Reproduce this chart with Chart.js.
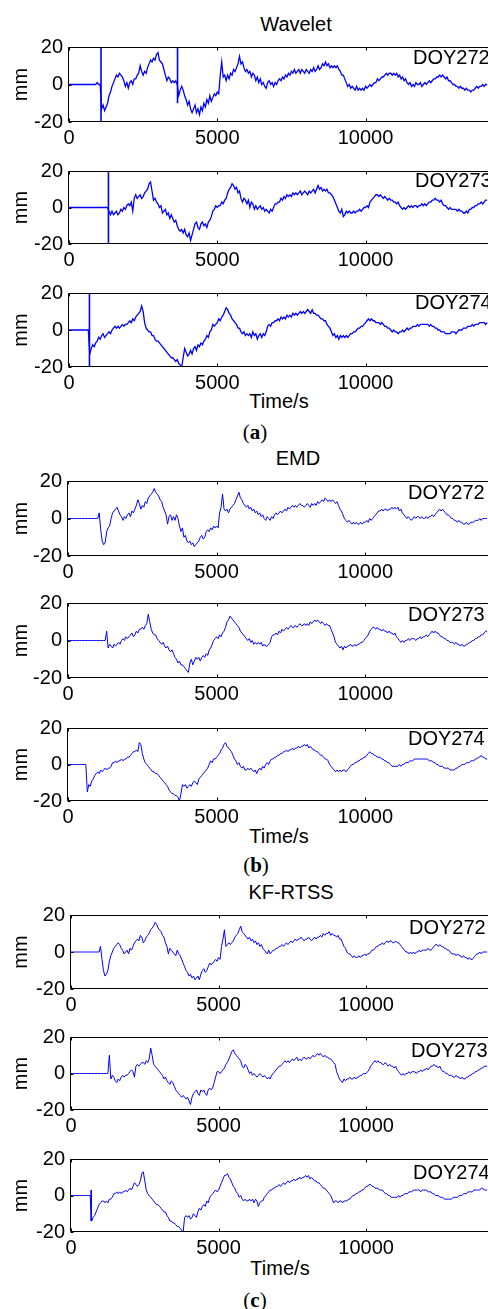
<!DOCTYPE html>
<html>
<head>
<meta charset="utf-8">
<script src="https://cdn.jsdelivr.net/npm/chart.js@4.4.1/dist/chart.umd.min.js"></script>
<style>
  body { margin: 0; background: #fff; width: 488px; height: 1309px; position: relative; overflow: hidden;
         font-family: "Liberation Sans", Arial, sans-serif; }
  canvas { position: absolute; left: 0; }
  .t { position: absolute; font-size: 20px; line-height: 20px; white-space: nowrap; color: #000; }
  .c { transform: translateX(-50%); }
  .cap { font-family: "Liberation Serif", "DejaVu Serif", serif; font-size: 21px; }
</style>
</head>
<body>
<div class="t c" style="left:296px;top:14px">Wavelet</div>
<div class="t c" style="left:279px;top:391px">Time/s</div>
<div class="t c cap" style="left:255px;top:422px">(<b>a</b>)</div>
<div class="t c" style="left:298px;top:448px">EMD</div>
<div class="t c" style="left:279px;top:826px">Time/s</div>
<div class="t c cap" style="left:256px;top:855px">(<b>b</b>)</div>
<div class="t c" style="left:291px;top:882px">KF-RTSS</div>
<div class="t c" style="left:280px;top:1258px">Time/s</div>
<div class="t c cap" style="left:255px;top:1290px">(<b>c</b>)</div>

<script>
// ---- data: displacement (mm) sampled every 50 s, one row = 1000 s ----
const STEP = 50;
const times = Array.from({ length: 283 }, (_, i) => i * STEP);
const xTicks = [0, 5000, 10000];
const yTicks = [-20, 0, 20];
const xMax = 14130;

// Wavelet
const wav272 = [
  0,0,0,0,0,0,0,0,0,0,0,0,0,0,0,0,0,0,0,1,
  0,0,-13,-11,-14,-12,-10,-6,-4,-1,1,3,5,4,6,5,4,2,-1,1,
  -2,1,2,0,3,3,5,6,10,7,5,7,6,9,11,13,12,14,13,16,
  17,13,12,11,8,5,2,4,3,1,2,1,2,0,-6,-3,-1,-3,-6,-8,
  -11,-9,-13,-15,-13,-11,-15,-13,-16,-12,-14,-10,-12,-8,-10,-6,-9,-7,-5,-6,
  -4,-5,5,12,4,5,2,5,3,6,5,8,7,9,11,15,11,12,9,7,
  8,6,7,4,6,5,2,4,1,3,0,1,-1,-2,1,2,0,1,-1,1,
  0,2,3,2,4,3,5,4,6,5,7,6,8,6,7,8,6,8,7,6,
  8,7,6,8,7,9,7,8,10,8,9,11,10,12,10,11,9,10,9,10,
  9,10,8,7,5,5,3,1,-1,0,-2,-1,-2,-3,-1,-3,-2,-3,-2,-3,
  -1,-2,-1,0,-1,0,1,1,3,2,3,4,4,5,6,5,6,6,5,6,
  5,6,4,5,3,4,2,3,1,0,1,-1,0,-1,1,0,0,1,-1,0,
  1,0,1,2,1,2,3,3,4,4,5,4,5,4,3,4,2,2,1,0,
  0,-1,-1,-2,-1,-2,-2,-3,-2,-3,-3,-4,-3,-3,-2,-1,-2,-1,-1,0,
  -1,0,0];
const wav273 = [
  0,0,0,0,0,0,0,0,0,0,0,0,0,0,0,0,0,0,0,0,
  0,0,0,0,0,0,0,-2,-4,-2,-4,-3,-2,-4,-3,-1,-2,0,-1,1,
  2,1,3,-2,5,7,5,6,7,5,6,8,9,10,13,14,9,4,5,3,
  2,0,1,-3,-2,-1,-4,-3,-6,-4,-6,-8,-7,-10,-12,-13,-12,-14,-12,-15,
  -16,-14,-18,-15,-12,-9,-8,-11,-12,-9,-8,-10,-9,-11,-8,-7,-5,-2,-1,1,
  0,1,1,3,2,4,5,8,10,11,13,12,10,11,8,9,5,3,5,4,
  2,4,0,3,2,-1,1,-1,0,1,-1,0,-2,-1,-2,-3,-1,-2,0,2,
  2,3,3,5,4,6,5,7,6,7,6,8,7,8,7,8,9,7,8,9,
  8,7,9,8,9,10,8,10,12,10,11,9,10,9,10,8,8,7,6,4,
  2,0,-2,-3,-1,-5,-4,-2,-3,-2,-3,-3,-2,-3,-2,-2,-1,-2,-1,0,
  0,1,0,3,4,5,6,7,7,6,7,6,5,6,5,4,5,4,4,3,
  3,2,3,1,0,-1,0,-1,0,1,0,1,0,1,1,0,1,1,2,1,
  2,1,2,3,3,4,4,5,4,4,3,4,2,1,1,0,-1,0,-1,-1,
  -1,-1,-2,-1,-2,-2,-3,-3,-2,-3,-1,-1,0,0,1,1,2,2,3,2,
  3,4,4];
const wav274 = [
  0,0,0,0,0,0,0,0,0,0,0,0,0,0,-13,-10,-8,-9,-7,-6,
  -4,-5,-3,-2,-4,-3,-2,-1,-2,0,1,2,1,2,1,2,3,2,3,3,
  4,5,4,6,5,7,8,9,10,13,10,4,1,0,-1,-1,-3,-3,-5,-6,
  -6,-7,-8,-9,-10,-11,-12,-13,-14,-15,-15,-16,-17,-16,-18,-19,-20,-15,-10,-12,
  -14,-13,-11,-13,-10,-9,-11,-8,-9,-7,-8,-6,-5,-3,-4,-1,0,3,2,3,
  4,6,5,7,8,10,12,11,9,8,6,5,4,3,1,1,-1,-2,-1,-3,
  -2,-3,-2,-4,-1,-3,-2,-5,-3,-2,-4,-2,-3,-1,2,3,2,4,4,5,
  5,6,5,7,6,7,6,8,7,8,7,9,8,9,8,9,10,9,10,9,
  10,11,10,9,11,9,9,8,8,7,6,6,5,5,3,2,1,-1,-3,-2,
  -4,-3,-5,-3,-4,-3,-4,-3,-4,-3,-2,-2,-1,-1,0,1,1,2,2,3,
  4,5,6,5,6,5,5,4,4,4,3,4,3,2,2,1,1,0,-1,0,
  -1,-1,-2,-1,-1,0,-1,0,1,0,1,1,2,2,2,3,2,3,3,3,
  3,3,3,2,3,2,2,1,1,0,0,-1,-1,-1,-2,-2,-2,-2,-1,-1,
  -1,-2,-1,0,0,0,1,1,1,2,2,2,3,2,3,3,3,4,4,4,
  4,3,4];
// vertical outliers of the wavelet result: [time, from, to]
const wavSpikes272 = [[1080, 20, -20], [3660, 20, -10]];
const wavSpikes273 = [[1330, 20, -20]];
const wavSpikes274 = [[690, 20, -20]];

// EMD
const emd272 = [
  0,0,0,0,0,0,0,0,0,0,0,0,0,0,0,0,0,0,0,0,
  0,3,-6,-12,-14,-13,-7,-5,-4,0,3,4,5,6,4,2,1,-1,1,0,
  2,3,1,4,3,5,7,10,8,5,7,6,9,8,11,12,13,14,16,14,
  13,12,10,9,6,4,2,-3,1,2,-1,1,-1,2,0,-4,-7,-5,-10,-9,
  -12,-13,-12,-14,-13,-15,-14,-13,-12,-10,-9,-11,-10,-7,-6,-7,-5,-6,-4,-5,
  -4,-5,3,6,13,5,4,5,3,5,6,7,8,10,12,14,11,10,8,7,
  6,7,5,6,4,5,3,4,2,3,1,2,0,-1,1,0,-1,1,0,2,
  3,2,3,4,3,4,5,4,6,5,6,7,6,7,6,7,8,7,7,6,
  7,8,7,6,8,7,8,7,9,8,9,10,9,11,10,9,10,9,10,9,
  8,9,7,5,4,2,0,-1,-2,-1,-2,-3,-2,-3,-2,-3,-3,-2,-3,-2,
  -2,-1,-2,0,-1,0,1,2,3,4,4,5,4,5,5,4,5,5,6,5,
  6,5,6,4,5,3,2,1,0,1,0,-1,0,1,0,1,1,0,1,0,
  0,1,0,1,1,2,1,2,3,4,5,4,5,4,3,2,2,1,0,0,
  -1,-1,-2,-1,-2,-2,-3,-3,-2,-3,-3,-2,-2,-2,-1,-1,-1,0,-1,0,
  0,0,0];
const emd273 = [
  0,0,0,0,0,0,0,0,0,0,0,0,0,0,0,0,0,0,0,0,
  0,0,0,0,0,0,5,-4,-2,-3,-4,-2,-3,-2,-1,-2,0,1,0,2,
  1,2,3,4,2,3,5,4,6,6,7,6,8,9,14,10,6,4,3,3,
  1,0,-1,-2,-1,-3,-4,-3,-5,-6,-5,-7,-9,-10,-12,-11,-13,-13,-14,-15,
  -16,-17,-12,-10,-13,-11,-9,-10,-9,-11,-9,-8,-9,-7,-8,-5,-4,-2,0,1,
  2,1,3,2,4,5,7,10,11,13,12,11,10,9,8,7,5,4,3,2,
  1,0,1,-1,0,-2,-1,-2,-1,-2,-1,-3,-2,-3,-3,-2,-1,2,3,3,
  4,3,5,4,6,5,6,7,6,7,8,7,7,8,7,8,9,8,8,9,
  8,9,8,10,9,10,11,10,11,10,9,10,9,8,9,8,8,6,4,2,
  -1,-2,-3,-4,-3,-5,-3,-4,-3,-3,-2,-3,-3,-2,-3,-2,-2,-1,-1,0,
  1,2,3,5,6,7,7,6,7,6,6,5,6,5,5,4,5,4,4,3,
  4,2,1,0,-1,0,-1,0,0,1,0,1,1,1,0,1,1,2,1,2,
  2,3,2,3,4,5,4,5,4,4,3,2,2,1,1,0,0,-1,-1,-1,
  -2,-1,-2,-2,-3,-2,-3,-3,-2,-2,-1,-1,0,0,1,1,2,2,3,3,
  4,5,5];
const emd274 = [
  0,0,0,0,0,0,0,0,0,0,0,0,0,-15,-11,-12,-9,-8,-6,-5,
  -4,-5,-3,-4,-3,-2,-3,-2,-2,-1,1,1,2,1,2,2,3,2,3,3,
  4,4,5,6,7,7,8,7,12,11,6,3,1,0,-1,-2,-3,-4,-4,-5,
  -5,-6,-7,-8,-9,-10,-11,-12,-14,-15,-16,-16,-17,-17,-18,-20,-16,-11,-12,-11,
  -13,-12,-11,-12,-10,-9,-10,-11,-8,-7,-6,-5,-4,-3,-2,0,2,1,3,3,
  4,5,6,8,9,11,12,10,9,8,7,5,3,2,0,1,-1,-2,-1,-3,
  -3,-2,-3,-2,-3,-4,-3,-5,-3,-2,-3,-1,-2,0,1,0,2,3,3,4,
  4,5,5,6,6,7,7,8,7,8,8,9,8,9,9,10,9,10,10,11,
  10,11,9,10,9,8,8,7,7,6,5,5,4,3,3,2,0,-1,-2,-3,
  -4,-3,-4,-3,-4,-3,-3,-4,-3,-2,-1,0,0,1,1,2,2,3,3,4,
  4,5,6,7,6,6,5,5,4,4,4,3,3,2,2,1,1,0,-1,-1,
  -1,-1,-1,0,-1,0,0,1,1,1,2,2,2,3,3,3,3,3,3,3,
  3,3,3,2,2,2,1,1,0,0,-1,-1,-1,-2,-2,-2,-2,-3,-3,-3,
  -3,-2,-2,-1,-1,0,0,0,1,1,1,2,2,2,3,3,4,4,5,4,
  4,3,3];

// KF-RTSS
const kf272 = [
  0,0,0,0,0,0,0,0,0,0,0,0,0,0,0,0,0,0,0,0,
  3,-4,-10,-13,-12,-10,-5,-2,0,2,3,4,5,4,2,1,-1,0,1,-1,
  2,1,3,5,6,7,6,9,8,5,6,8,9,10,12,13,14,16,15,13,
  12,11,9,8,5,3,-1,2,1,0,-1,-2,1,-1,-2,-4,-6,-8,-10,-11,
  -13,-12,-14,-13,-15,-14,-13,-15,-12,-10,-9,-11,-10,-8,-6,-7,-6,-5,-4,-5,
  -3,-4,3,7,12,3,4,5,4,5,6,8,9,10,12,14,11,10,9,8,
  7,8,6,7,5,6,4,5,3,4,2,1,0,-1,1,-1,0,1,1,2,
  2,3,3,4,3,4,5,4,5,6,5,6,7,6,7,7,8,7,6,7,
  7,8,7,6,7,8,7,8,8,9,8,10,9,10,10,11,9,10,9,9,
  8,9,7,7,5,3,2,0,-1,-1,-2,-3,-2,-3,-3,-2,-3,-2,-2,-1,
  -2,-1,-1,0,1,1,2,3,3,4,4,5,4,5,6,5,6,6,5,5,
  6,5,5,4,3,2,1,0,0,-1,0,-1,0,-1,0,0,1,0,1,1,
  1,1,2,1,1,2,3,4,4,3,4,3,3,2,2,1,1,0,-1,-1,
  -1,-2,-1,-2,-2,-3,-2,-3,-3,-4,-3,-4,-4,-3,-2,-1,-1,0,-1,0,
  0,0,0];
const kf273 = [
  0,0,0,0,0,0,0,0,0,0,0,0,0,0,0,0,0,0,0,0,
  0,0,0,0,0,0,10,-3,-1,-2,-4,-5,-3,-4,-2,-1,-2,-1,-1,0,
  1,2,1,-2,4,5,4,5,6,6,5,7,6,8,14,10,5,4,3,2,
  1,0,-1,-3,-2,-4,-5,-6,-4,-5,-7,-9,-10,-11,-12,-13,-12,-13,-14,-13,
  -15,-17,-13,-11,-10,-9,-11,-12,-9,-10,-9,-11,-12,-9,-8,-9,-8,-5,-2,1,
  1,0,1,2,3,5,6,8,10,12,13,11,10,9,8,7,4,3,5,4,
  2,0,1,-1,0,-1,-2,-1,0,-1,-2,-1,-2,-3,-2,-3,-1,0,1,2,
  3,4,4,5,6,7,6,7,6,7,8,7,8,9,7,8,7,8,9,8,
  8,9,8,9,10,9,10,11,10,11,10,9,10,9,9,8,8,7,6,5,
  1,-1,-3,-4,-5,-3,-4,-3,-3,-2,-3,-3,-2,-3,-2,-2,-1,-1,0,0,
  0,1,2,4,5,6,7,6,7,6,6,5,5,6,5,4,5,4,4,3,
  4,2,1,0,-1,0,-1,0,0,1,0,1,1,1,0,1,1,2,1,2,
  2,3,2,3,4,4,5,4,4,3,4,2,1,1,0,0,-1,-1,-1,-2,
  -2,-1,-2,-2,-3,-2,-3,-3,-2,-2,-1,-1,0,0,1,1,2,2,3,3,
  4,4,4];
const kf274 = [
  0,0,0,0,0,0,0,0,0,0,0,0,0,0,-14,-12,-11,-9,-7,-5,
  -4,-3,-3,-4,-3,-4,-2,-2,-1,1,1,2,1,2,1,2,2,3,2,3,
  4,3,5,7,6,5,6,8,12,13,8,3,1,0,-1,-2,-3,-4,-5,-5,
  -6,-7,-8,-9,-9,-11,-12,-14,-14,-15,-15,-16,-17,-17,-18,-19,-20,-12,-11,-12,
  -11,-13,-12,-10,-11,-12,-9,-7,-8,-6,-5,-6,-3,-4,-1,0,1,2,3,2,
  3,5,7,9,11,11,12,10,9,7,5,4,2,1,-1,0,-2,-3,-2,-3,
  -3,-2,-3,-2,-4,-2,-3,-6,-4,-3,-3,-1,0,1,2,3,3,4,4,5,
  5,6,5,6,7,6,7,8,7,8,8,9,8,9,9,10,9,10,10,11,
  10,11,9,10,9,8,8,7,7,6,5,4,4,3,2,1,0,-2,-4,-3,
  -3,-4,-3,-3,-4,-3,-3,-3,-2,-2,-1,0,0,1,1,2,2,3,3,4,
  5,5,6,6,5,5,4,4,4,3,3,3,2,1,1,0,0,-1,-1,-1,
  -1,-1,0,-1,0,0,1,1,1,2,2,2,3,3,3,3,3,2,3,3,
  3,3,2,2,2,1,1,0,0,0,-1,-1,-1,-2,-2,-2,-2,-2,-2,-1,
  -1,-1,-1,0,0,0,1,1,1,2,2,2,2,3,3,3,3,3,4,4,
  3,3,3];
const kfSpikes274 = [[685, 3, -14]];

// ---- layout of the nine panels (pixel boxes) ----
const panels = [
  { top: 43,   h: 79, left: 69, v: wav272, spikes: wavSpikes272, doy: 'DOY272', dx: 413, dy: 57,   lw: 1.3 },
  { top: 167,  h: 77, left: 69, v: wav273, spikes: wavSpikes273, doy: 'DOY273', dx: 415, dy: 180,  lw: 1.3 },
  { top: 289,  h: 78, left: 69, v: wav274, spikes: wavSpikes274, doy: 'DOY274', dx: 415, dy: 302,  lw: 1.3 },
  { top: 477,  h: 79, left: 68, v: emd272, spikes: [],           doy: 'DOY272', dx: 408, dy: 492,  lw: 1 },
  { top: 599,  h: 79, left: 68, v: emd273, spikes: [],           doy: 'DOY273', dx: 408, dy: 614,  lw: 1 },
  { top: 724,  h: 77, left: 68, v: emd274, spikes: [],           doy: 'DOY274', dx: 408, dy: 738,  lw: 1 },
  { top: 911,  h: 78, left: 71, v: kf272,  spikes: [],           doy: 'DOY272', dx: 409, dy: 927,  lw: 1 },
  { top: 1033, h: 77, left: 71, v: kf273,  spikes: [],           doy: 'DOY273', dx: 411, dy: 1050, lw: 1 },
  { top: 1155, h: 77, left: 71, v: kf274,  spikes: kfSpikes274,  doy: 'DOY274', dx: 413, dy: 1172, lw: 1 }
];

const PAD_TOP = 14, X_AXIS_H = 30;
const FONT = { family: '"Liberation Sans", Arial, sans-serif', size: 20 };

// matlab-like box: left/top/bottom lines with inward ticks
const boxPlugin = {
  id: 'box',
  afterDraw(chart) {
    const { ctx, chartArea: a, scales: { x, y } } = chart;
    ctx.save();
    ctx.strokeStyle = '#000';
    ctx.lineWidth = 1;
    ctx.beginPath();
    const L = Math.round(a.left) - 0.5, T = Math.round(a.top) + 0.5, B = Math.round(a.bottom) - 0.5;
    ctx.moveTo(a.right + 2, T); ctx.lineTo(L, T); ctx.lineTo(L, B); ctx.lineTo(a.right + 2, B);
    xTicks.forEach(v => {
      const px = Math.round(x.getPixelForValue(v)) + 0.5;
      ctx.moveTo(px, B); ctx.lineTo(px, B - 3);
      ctx.moveTo(px, T); ctx.lineTo(px, T + 3);
    });
    yTicks.forEach(v => {
      const py = Math.round(y.getPixelForValue(v)) + 0.5;
      ctx.moveTo(L, py); ctx.lineTo(L + 3, py);
    });
    ctx.stroke();
    ctx.restore();
  }
};

panels.forEach(p => {
  if (p.v.length !== times.length) throw new Error(p.doy + ' has ' + p.v.length + ' values');
  const cv = document.createElement('canvas');
  const H = PAD_TOP + p.h + X_AXIS_H;
  cv.width = 488; cv.height = H;
  cv.style.top = (p.top - PAD_TOP) + 'px';
  document.body.appendChild(cv);

  const lbl = document.createElement('div');
  lbl.className = 't';
  lbl.style.left = p.dx + 'px';
  lbl.style.top = (p.dy - 10) + 'px';
  lbl.textContent = p.doy;
  document.body.appendChild(lbl);

  const datasets = [{
    data: times.map((t, i) => ({ x: t, y: p.v[i] })),
    borderColor: '#0000ff', borderWidth: p.lw, pointRadius: 0, tension: 0, fill: false
  }];
  p.spikes.forEach(s => datasets.push({
    data: [{ x: s[0], y: s[1] }, { x: s[0], y: s[2] }],
    borderColor: '#0000ff', borderWidth: p.lw > 1 ? 1.6 : 1, pointRadius: 0, fill: false
  }));

  new Chart(cv, {
    type: 'line',
    data: { datasets },
    options: {
      responsive: false, animation: false, devicePixelRatio: 1,
      layout: { padding: { top: PAD_TOP, right: 0, bottom: 0, left: 0 } },
      plugins: { legend: { display: false }, tooltip: { enabled: false } },
      scales: {
        x: {
          type: 'linear', min: 0, max: xMax,
          afterBuildTicks: s => { s.ticks = xTicks.map(v => ({ value: v })); },
          afterFit: s => { s.height = X_AXIS_H; },
          grid: { display: false, drawTicks: false },
          border: { display: false },
          ticks: { color: '#000', padding: 4, maxRotation: 0, autoSkip: false, font: FONT,
                   callback: v => String(v) }
        },
        y: {
          min: -20, max: 20,
          afterBuildTicks: s => { s.ticks = yTicks.map(v => ({ value: v })); },
          afterFit: s => { s.width = p.left; },
          grid: { display: false, drawTicks: false },
          border: { display: false },
          title: { display: true, text: 'mm', color: '#000', padding: { top: 9, bottom: 0 }, font: FONT },
          ticks: { color: '#000', padding: 6, font: FONT, callback: v => String(v) }
        }
      }
    },
    plugins: [boxPlugin]
  });
});
</script>
</body>
</html>
